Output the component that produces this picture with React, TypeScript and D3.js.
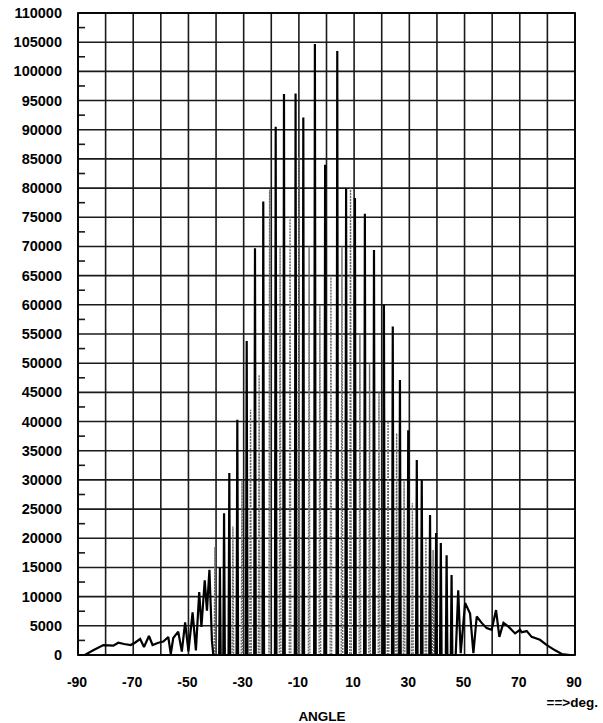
import React from "react";
import * as d3 from "d3";

// left wing, read as a continuous trace (angle in deg, counts)
const leftTailAngles = [
  -90, -87.5, -84.5, -80.8, -77.2, -75.4, -73.3, -70.9, -69.4, -67.5, -66.1, -64.3, -63.0, -60.9, -59.1, -57.3,
  -56.4, -55.5, -53.7, -52.4, -51.2, -50.0, -48.5, -47.3, -46.1, -45.3, -44.1, -43.3, -42.4, -41.5, -41.0,
];
const leftTailCounts = [
  0, 0, 800, 1700, 1600, 2100, 1880, 1700, 2100, 2740, 1370, 3250, 1710, 2100, 2300, 3080,
  170, 2910, 4000, 570, 5600, 600, 7300, 800, 10800, 4800, 12800, 7600, 14600, 2500, 0,
];

// main fringes (black) between the wings
const fringeAngles = [
  -38.6, -37.1, -35.2, -32.3, -28.9, -25.9, -22.9, -18.4, -15.4, -11.2, -8.4, -4.2, -0.5, 3.9, 7.1, 10.3,
  13.9, 17.2, 20.8, 24.0, 26.6, 29.6, 32.7, 34.5, 37.5, 39.7, 41.4, 43.5, 45.3,
];
const fringeCounts = [
  15000, 24300, 31200, 40300, 53800, 69700, 77700, 90500, 96100, 96200, 92100, 104700, 84000, 103500, 79900, 78300,
  75600, 69400, 60000, 56300, 47100, 38500, 33400, 30000, 24000, 20900, 19200, 17100, 13700,
];

// fainter (grey dotted) fringes in between
const faintAngles = [
  -40.4, -33.9, -30.6, -27.5, -24.4, -20.6, -16.8, -13.2, -10.0, -6.3, -2.4, 1.6, 5.6, 8.7, 12.1, 15.6,
  19.0, 22.3, 25.4, 28.1, 31.1, 36.0, 38.6,
];
const faintCounts = [
  18500, 22000, 30000, 42000, 48000, 79700, 70000, 75000, 85400, 70000, 60000, 65000, 70000, 80000, 55000, 50000,
  45000, 40000, 38000, 30000, 26000, 20000, 18000,
];

// right wing, continuous trace
const rightTailAngles = [
  46.8, 47.7, 48.6, 50.2, 52.0, 53.2, 54.4, 56.2, 58.0, 59.8, 61.4, 62.6, 63.5, 64.1, 65.9, 68.3,
  70.1, 70.7, 72.5, 74.3, 77.3, 79.8, 82.8, 85.2, 88.2,
];
const rightTailCounts = [
  0, 11100, 300, 8900, 7100, 300, 6600, 5500, 4600, 4300, 7700, 3100, 4600, 5500, 4850, 3700,
  4300, 3900, 4100, 3100, 2600, 1700, 800, 170, 0,
];

const yTicks = d3.range(0, 110001, 5000);
const yMinor = d3.range(2500, 110000, 5000);
const xGrid = d3.range(-90, 91, 10);
const xTickLabels = [-90, -70, -50, -30, -10, 10, 30, 50, 70, 90];

const W = 603;
const H = 723;
const left = 78;
const right = 575;
const top = 13;
const bottom = 655;
const font = "'Liberation Sans', Arial, Helvetica, sans-serif";
const spikeHalf = 0.28; // deg, half width of a fringe at its base

type P = [number, number];

function spikes(a: number[], v: number[]): P[] {
  const out: P[] = [];
  a.forEach((ang, i) => {
    out.push([ang - spikeHalf, 0], [ang, v[i]], [ang + spikeHalf, 0]);
  });
  return out;
}

export default function App() {
  const x = d3.scaleLinear().domain([-90, 90]).range([left, right]);
  const y = d3.scaleLinear().domain([0, 110000]).range([bottom, top]);

  const line = d3
    .line<P>()
    .x((d) => x(d[0]))
    .y((d) => y(d[1]));

  const mainPts: P[] = [
    ...leftTailAngles.map((a, i) => [a, leftTailCounts[i]] as P),
    ...spikes(fringeAngles, fringeCounts),
    ...rightTailAngles.map((a, i) => [a, rightTailCounts[i]] as P),
  ];
  const faintPts = spikes(faintAngles, faintCounts);

  return (
    <svg
      width={W}
      height={H}
      style={{ position: "absolute", left: 0, top: 0, background: "#fff" }}
      fontFamily={font}
    >
      {/* grid */}
      <g stroke="#1a1a1a" strokeWidth={1.6}>
        {yTicks.map((t) => (
          <line key={"h" + t} x1={left} x2={right} y1={y(t)} y2={y(t)} />
        ))}
        {xGrid.map((t) => (
          <line key={"v" + t} x1={x(t)} x2={x(t)} y1={top} y2={bottom} />
        ))}
        {yMinor.map((t) => (
          <line key={"m" + t} x1={left} x2={left + 7} y1={y(t)} y2={y(t)} />
        ))}
      </g>
      <rect x={left} y={top} width={right - left} height={bottom - top} fill="none" stroke="#000" strokeWidth={1.8} />

      {/* data */}
      <path d={line(faintPts) || ""} fill="none" stroke="#6a6a6a" strokeWidth={1.4} strokeDasharray="2,1" />
      <path d={line(mainPts) || ""} fill="none" stroke="#000" strokeWidth={2.2} strokeLinejoin="miter" strokeMiterlimit={2} />

      {/* y labels */}
      <g fontSize={14.5} fontWeight="bold" textAnchor="end" fill="#000">
        {yTicks.map((t) => (
          <text key={"yl" + t} x={62} y={y(t) + 5}>
            {t}
          </text>
        ))}
      </g>

      {/* x labels */}
      <g fontSize={14} fontWeight="bold" textAnchor="middle" fill="#000">
        {xTickLabels.map((t) => (
          <text key={"xl" + t} x={x(t) - 1} y={687}>
            {t}
          </text>
        ))}
      </g>
      <text x={598} y={707} fontSize={13.5} fontWeight="bold" textAnchor="end">
        ==&gt;deg.
      </text>
      <text x={322} y={721} fontSize={13.5} fontWeight="bold" textAnchor="middle">
        ANGLE
      </text>
    </svg>
  );
}
